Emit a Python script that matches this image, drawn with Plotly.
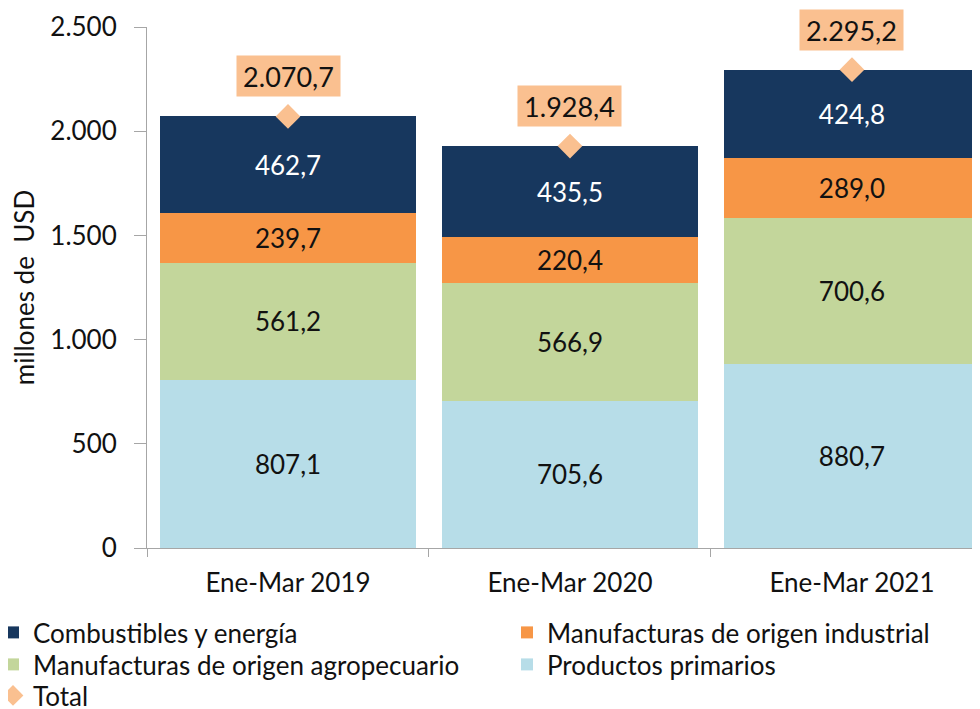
import plotly.graph_objects as go

categories = ["Ene-Mar 2019", "Ene-Mar 2020", "Ene-Mar 2021"]
productos_primarios = [807.1, 705.6, 880.7]
manuf_agro = [561.2, 566.9, 700.6]
manuf_industrial = [239.7, 220.4, 289.0]
combustibles = [462.7, 435.5, 424.8]
total = [2070.7, 1928.4, 2295.2]
y_ticks = [0, 500, 1000, 1500, 2000, 2500]

FONT = "Lato"
W, H = 972, 701  # page body has an 8px margin
ML, MT, MB = 139, 19, 161
PW, PH = W - ML, H - MT - MB

series = [
    ("Productos primarios", productos_primarios, "#B7DDE8", "#111111", "legend4"),
    ("Manufacturas de origen agropecuario", manuf_agro, "#C3D69B", "#111111", "legend3"),
    ("Manufacturas de origen industrial", manuf_industrial, "#F79646", "#111111", "legend2"),
    ("Combustibles y energía", combustibles, "#17375E", "#FFFFFF", "legend"),
]

fig = go.Figure()
for name, vals, color, tcolor, leg in series:
    fig.add_trace(go.Bar(
        name=name, x=categories, y=vals,
        marker=dict(color=color, line=dict(width=0)),
        texttemplate="%{y:,.1f}", textposition="inside",
        insidetextanchor="middle", textangle=0,
        textfont=dict(family=FONT, size=26, color=tcolor),
        legend=leg, width=0.91,
    ))

fig.add_trace(go.Scatter(
    name="Total", x=categories, y=total, mode="markers",
    marker=dict(symbol="diamond", size=19, color="#FAC090"),
    legend="legend5", cliponaxis=False,
))

for c, t in zip(categories, total):
    fig.add_annotation(
        x=c, y=t, text=f"{t:,.1f}".replace(",", "X").replace(".", ",").replace("X", "."),
        showarrow=False, yshift=40, yanchor="middle",
        bgcolor="#FAC090", borderpad=5, width=93, height=30,
        font=dict(family=FONT, size=27, color="#111111"),
    )

legend_common = dict(
    orientation="v", xref="paper", yref="paper",
    xanchor="left", yanchor="top",
    font=dict(family=FONT, size=26, color="#111111"),
    itemwidth=30, tracegroupgap=0, traceorder="normal",
    bgcolor="rgba(0,0,0,0)",
)


def leg_pos(x_fig, row_center_screen):
    top_fig = row_center_screen - 8 - 24
    return dict(x=(x_fig - ML) / PW, y=-(top_fig - (MT + PH)) / PH)


col1, col2 = -15, 499
rows = [633, 665, 696]

fig.update_layout(
    barmode="stack",
    separators=",.",
    width=W, height=H,
    paper_bgcolor="white", plot_bgcolor="white",
    margin=dict(l=ML, r=0, t=MT, b=MB, autoexpand=False),
    font=dict(family=FONT, size=21, color="#111111"),
    legend=dict(**leg_pos(col1, rows[0]), **legend_common),
    legend2=dict(**leg_pos(col2, rows[0]), **legend_common),
    legend3=dict(**leg_pos(col1, rows[1]), **legend_common),
    legend4=dict(**leg_pos(col2, rows[1]), **legend_common),
    legend5=dict(**leg_pos(col1, rows[2]), **legend_common),
    showlegend=True,
)
fig.update_xaxes(
    range=[-0.5, 2.454], showline=True, linecolor="#A6A6A6", linewidth=1,
    ticks="outside", tickson="boundaries", ticklen=8, tickcolor="#A6A6A6",
    tickfont=dict(family=FONT, size=26, color="#111111"), showgrid=False,
    automargin=False, tickangle=0, ticklabelstandoff=12,
)
fig.update_yaxes(
    range=[0, 2500], tickvals=y_ticks, tickformat=",d", separatethousands=True,
    showline=True, linecolor="#A6A6A6", linewidth=1, ticks="outside",
    ticklen=12, tickcolor="#A6A6A6", showgrid=False, zeroline=False,
    tickfont=dict(family=FONT, size=26, color="#111111"), ticklabelstandoff=12,
    title=dict(text="millones de  USD", font=dict(family=FONT, size=26, color="#111111"), standoff=14),
    automargin=False,
)

fig.write_html("out.html")
